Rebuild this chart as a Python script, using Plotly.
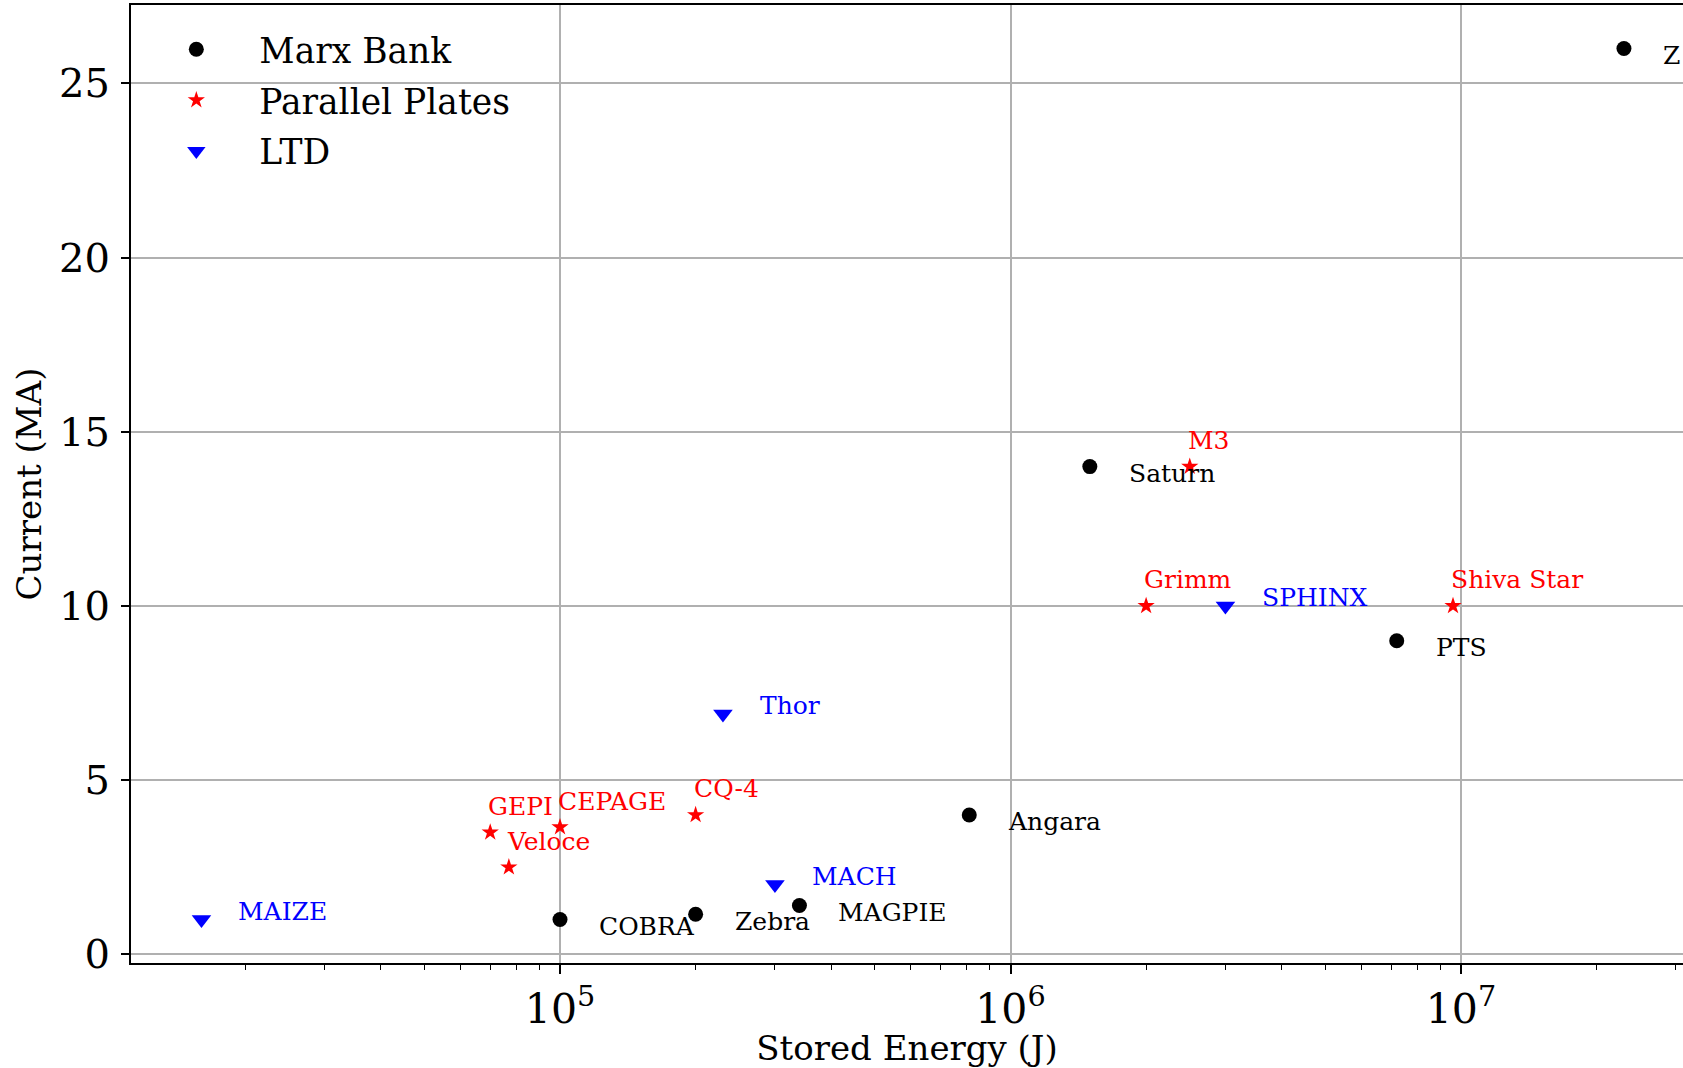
import math
import plotly.graph_objects as go

# Pulsed-power machines: stored energy (J) vs peak current (MA)
marx_names = ["Z", "Saturn", "PTS", "Angara", "COBRA", "Zebra", "MAGPIE"]
marx_energy = [2.3e7, 1.5e6, 7.2e6, 8.1e5, 1.0e5, 2.0e5, 3.4e5]
marx_current = [26, 14, 9, 4, 1, 1.15, 1.4]

plates_names = ["M3", "Grimm", "Shiva Star", "GEPI", "CEPAGE", "Veloce", "CQ-4"]
plates_energy = [2.5e6, 2.0e6, 9.6e6, 7.0e4, 1.0e5, 7.7e4, 2.0e5]
plates_current = [14, 10, 10, 3.5, 3.65, 2.5, 4]

ltd_names = ["MAIZE", "Thor", "MACH", "SPHINX"]
ltd_energy = [1.6e4, 2.3e5, 3.0e5, 3.0e6]
ltd_current = [1, 6.9, 2, 10]

x_tickvals = [1e5, 1e6, 1e7]
x_ticktext = ["10<sup>5</sup>", "10<sup>6</sup>", "10<sup>7</sup>"]
x_minor = [m * 10 ** e for e in (4, 5, 6, 7) for m in range(2, 10)]
y_tickvals = [0, 5, 10, 15, 20, 25]

FONT = "DejaVu Serif"

groups = [
    # legend name, labels, x, y, colour, symbol, size, label shift (px)
    ("Marx Bank", marx_names, marx_energy, marx_current, "black", "circle", 15, (37, -7)),
    ("Parallel Plates", plates_names, plates_energy, plates_current, "red", "star", 13, (-4, 26)),
    ("LTD", ltd_names, ltd_energy, ltd_current, "blue", "triangle-down", 17, (35, 8)),
]

fig = go.Figure()
annotations = []
for i, (gname, labels, xs, ys, color, symbol, size, (dx, dy)) in enumerate(groups):
    fig.add_trace(go.Scatter(
        x=xs, y=ys, mode="markers", name=gname, legendgroup=gname,
        marker=dict(color=color, symbol=symbol, size=size, line=dict(width=0)),
    ))
    for lab, xv, yv in zip(labels, xs, ys):
        annotations.append(dict(
            x=math.log10(xv), y=yv, xref="x", yref="y", text=lab,
            showarrow=False, xanchor="left", yanchor="middle",
            xshift=dx, yshift=dy,
            font=dict(family=FONT, size=25, color=color),
        ))

fig.update_layout(
    width=1683, height=1068,
    margin=dict(l=131, r=0, t=5, b=105),
    paper_bgcolor="white", plot_bgcolor="white",
    font=dict(family=FONT, color="black"),
    annotations=annotations,
    showlegend=True,
    legend=dict(
        x=0.0015, y=0.984, xanchor="left", yanchor="top",
        bgcolor="rgba(0,0,0,0)", borderwidth=0,
        font=dict(family=FONT, size=34.5, color="black"),
        itemwidth=116, tracegroupgap=3,
    ),
    xaxis=dict(
        type="log", range=[4.0477, 7.4928],
        tickvals=x_tickvals, ticktext=x_ticktext,
        tickfont=dict(family=FONT, size=41, color="black"),
        ticks="outside", ticklen=9, tickwidth=1.5, tickcolor="black",
        minor=dict(tickvals=x_minor, ticks="outside", ticklen=5,
                   tickwidth=1.2, tickcolor="black", showgrid=False),
        showgrid=True, gridcolor="#b0b0b0", gridwidth=1.5,
        showline=True, linecolor="black", linewidth=2, mirror=True,
        zeroline=False,
        title=dict(text="Stored Energy (J)", font=dict(family=FONT, size=34),
                   standoff=11),
    ),
    yaxis=dict(
        range=[-0.25, 27.25],
        tickvals=y_tickvals,
        tickfont=dict(family=FONT, size=40, color="black"),
        ticks="outside", ticklen=8, tickwidth=1.5, tickcolor="black",
        ticklabelstandoff=3,
        showgrid=True, gridcolor="#b0b0b0", gridwidth=1.5,
        showline=True, linecolor="black", linewidth=2, mirror=False,
        zeroline=False,
        title=dict(text="Current (MA)", font=dict(family=FONT, size=34),
                   standoff=7),
    ),
)

fig.write_html("out.html")
